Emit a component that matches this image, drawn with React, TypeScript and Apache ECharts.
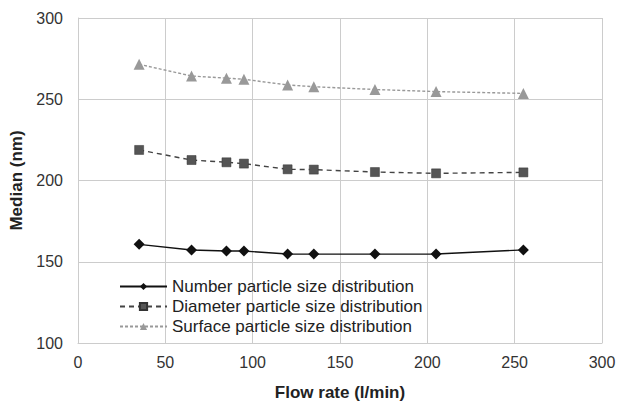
import React, { useEffect, useRef } from "react";
import * as echarts from "echarts";

const flowRates = [35, 65, 85, 95, 120, 135, 170, 205, 255];
const numberMedian = [160.7, 157.2, 156.6, 156.6, 154.8, 154.7, 154.7, 154.8, 157.3];
const diameterMedian = [218.8, 212.6, 211.2, 210.4, 206.9, 206.7, 205.2, 204.4, 205.0];
const surfaceMedian = [271.5, 264.3, 263.0, 262.3, 258.8, 257.7, 256.0, 254.7, 253.6];
const seriesNames = [
  "Number particle size distribution",
  "Diameter particle size distribution",
  "Surface particle size distribution",
];

const FONT = "Liberation Sans, Arial, sans-serif";

export default function App() {
  const ref = useRef<HTMLDivElement>(null);
  useEffect(() => {
    document.body.style.margin = "0";
    if (!ref.current) return;
    const chart = echarts.init(ref.current, null, { renderer: "svg" });
    const pair = (ys: number[]) => flowRates.map((x, i) => [x, ys[i]]);
    chart.setOption({
      animation: false,
      backgroundColor: "#fff",
      textStyle: { fontFamily: FONT },
      grid: {
        left: 78,
        right: 25,
        top: 18,
        bottom: 62,
        containLabel: false,
        outerBoundsMode: "none",
      },
      legend: {
        orient: "vertical",
        left: 119,
        top: 278,
        padding: 0,
        itemWidth: 47,
        itemHeight: 9,
        itemGap: 3,
        textStyle: { fontSize: 17, color: "#222", fontFamily: FONT },
        data: seriesNames,
      },
      xAxis: {
        type: "value",
        min: 0,
        max: 300,
        interval: 50,
        name: "Flow rate (l/min)",
        nameLocation: "middle",
        nameGap: 41,
        nameTextStyle: { fontSize: 17, fontWeight: "bold", color: "#222", fontFamily: FONT },
        axisLine: { show: true, lineStyle: { color: "#ccc" } },
        axisTick: { show: false },
        axisLabel: { fontSize: 16, color: "#333", margin: 11, fontFamily: FONT },
        splitLine: { show: true, lineStyle: { color: "#ccc", width: 1 } },
      },
      yAxis: {
        type: "value",
        min: 100,
        max: 300,
        interval: 50,
        name: "Median (nm)",
        nameLocation: "middle",
        nameGap: 43,
        nameTextStyle: { fontSize: 17, fontWeight: "bold", color: "#222", fontFamily: FONT },
        axisLine: { show: true, lineStyle: { color: "#ccc" } },
        axisTick: { show: false },
        axisLabel: { fontSize: 16, color: "#333", margin: 15, fontFamily: FONT },
        splitLine: { show: true, lineStyle: { color: "#ccc", width: 1 } },
      },
      series: [
        {
          name: seriesNames[0],
          type: "line",
          data: pair(numberMedian),
          symbol: "diamond",
          symbolSize: 11,
          itemStyle: { color: "#111" },
          lineStyle: { color: "#111", width: 1.4, type: "solid" },
        },
        {
          name: seriesNames[1],
          type: "line",
          data: pair(diameterMedian),
          symbol: "rect",
          symbolSize: 9,
          itemStyle: { color: "#555", borderColor: "#333", borderWidth: 0.5 },
          lineStyle: { color: "#444", width: 1.4, type: [5, 4] },
        },
        {
          name: seriesNames[2],
          type: "line",
          data: pair(surfaceMedian),
          symbol: "triangle",
          symbolSize: 11,
          itemStyle: { color: "#999" },
          lineStyle: { color: "#999", width: 1.4, type: [3, 2] },
        },
      ],
    });
    return () => chart.dispose();
  }, []);
  return <div ref={ref} style={{ width: 627, height: 405 }} />;
}
